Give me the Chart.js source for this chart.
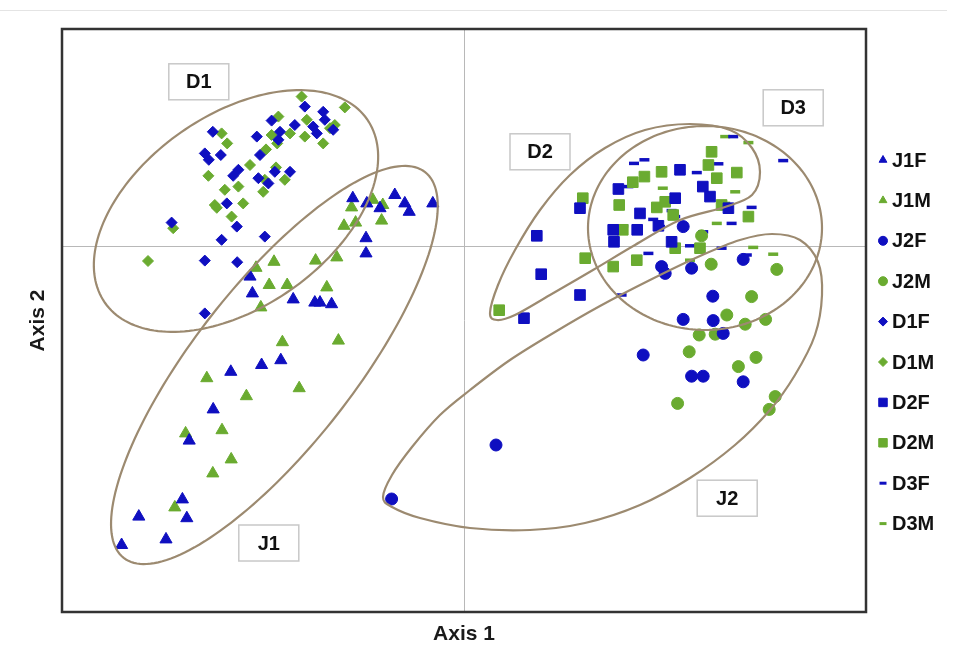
<!DOCTYPE html>
<html>
<head>
<meta charset="utf-8">
<script src="https://cdn.jsdelivr.net/npm/chart.js@4.4.0/dist/chart.umd.min.js"></script>
<style>
  html, body { margin: 0; padding: 0; background: #fff; }
  #wrap { width: 953px; height: 656px; position: relative; }
  #topline { position: absolute; left: 0; top: 10px; width: 947px; height: 0; border-top: 1px solid #e4e4e4; }
</style>
</head>
<body>
<div id="wrap"><div id="topline"></div><canvas id="myChart" width="953" height="656"></canvas></div>
<script>
// scores on the two axes, one list per group
const J1F = [[-27.8,12.2],[-24.3,10.9],[-21.0,9.7],[-17.3,13.0],[-14.8,10.9],[-13.7,8.8],[-7.8,10.9],
  [-24.5,2.2],[-24.5,-1.6],[-53.5,-7.4],[-52.9,-11.6],[-42.7,-13.1],[-37.3,-13.9],[-36.0,-13.9],[-33.1,-14.3],
  [-58.3,-31.2],[-50.6,-29.5],[-45.8,-28.3],[-62.7,-40.6],[-68.7,-48.4],[-70.4,-63.1],[-81.3,-67.4],
  [-69.3,-67.8],[-74.5,-73.1],[-85.6,-74.5]];
const J1M = [[-22.8,11.8],[-20.3,10.5],[-28.1,9.9],[-30.0,5.3],[-27.1,6.1],[-20.6,6.6],[-31.8,-2.6],
  [-37.1,-3.4],[-47.5,-3.7],[-52.0,-5.2],[-48.7,-9.5],[-44.2,-9.5],[-34.3,-10.1],[-50.8,-15.1],[-45.4,-23.8],
  [-31.4,-23.4],[-64.3,-32.8],[-54.4,-37.3],[-41.2,-35.3],[-60.5,-45.8],[-69.6,-46.6],[-58.2,-53.1],
  [-62.8,-56.6],[-72.3,-65.1]];
const J2F = [[54.8,5.1],[49.4,-4.9],[50.3,-6.6],[56.9,-5.3],[69.8,-3.1],[62.2,-12.3],[54.8,-18.1],
  [62.3,-18.4],[64.8,-21.6],[44.8,-27.0],[56.9,-32.3],[59.8,-32.3],[69.8,-33.7],[8.0,-49.5],[-18.1,-63.0]];
const J2M = [[61.8,-4.3],[78.2,-5.6],[71.9,-12.4],[65.7,-17.0],[70.3,-19.3],[75.4,-18.1],[58.8,-22.0],
  [62.8,-21.8],[56.3,-26.2],[73.0,-27.6],[68.6,-29.9],[77.8,-37.4],[76.3,-40.6],[53.4,-39.1],[59.4,2.8]];
const D1F = [[-39.8,35.1],[-35.2,33.8],[-34.8,31.8],[-37.7,30.1],[-36.8,28.4],[-42.3,30.5],[-48.1,31.6],
  [-46.0,28.8],[-46.4,26.8],[-51.8,27.6],[-62.8,28.8],[-64.8,23.4],[-63.8,21.8],[-60.8,23.0],[-51.0,23.0],
  [-56.4,19.3],[-57.7,17.8],[-43.5,18.8],[-51.4,17.2],[-48.9,15.9],[-59.3,10.9],[-32.7,29.3],[-47.3,18.8],
  [-73.1,6.1],[-56.8,5.1],[-60.6,1.8],[-49.8,2.6],[-64.8,-3.4],[-56.7,-3.8],[-64.8,-16.6]];
const D1M = [[-40.6,37.6],[-29.8,34.9],[-46.4,32.6],[-39.3,31.8],[-43.5,28.4],[-39.8,27.6],[-32.3,30.5],
  [-33.5,29.7],[-35.2,25.9],[-48.1,28.0],[-46.7,25.9],[-49.5,24.4],[-60.6,28.4],[-59.2,25.9],[-53.5,20.5],
  [-47.0,19.9],[-49.8,16.8],[-44.8,16.8],[-63.9,17.8],[-56.4,15.1],[-59.8,14.3],[-50.2,13.8],[-55.2,10.9],
  [-62.3,10.5],[-58.1,7.6],[-72.7,4.7],[-79.0,-3.5],[-61.8,9.8]];
const D2F = [[18.2,2.8],[29.0,9.7],[38.6,14.5],[44.0,8.4],[37.3,4.3],[37.5,1.3],[43.3,4.3],[48.6,5.3],
  [52.8,12.2],[54.0,19.3],[51.9,1.3],[59.7,15.1],[61.5,12.6],[66.1,9.7],[19.3,-6.8],[29.0,-12.0],[15.0,-17.8]];
const D2M = [[29.7,12.2],[38.8,10.5],[42.2,16.2],[45.1,17.6],[49.4,18.8],[48.2,9.9],[50.3,11.3],[39.7,4.3],
  [30.3,-2.8],[37.3,-4.9],[43.2,-3.3],[61.9,23.8],[61.1,20.5],[68.2,18.6],[63.2,17.2],[52.3,8.0],
  [64.4,10.5],[71.1,7.6],[59.0,-0.3],[52.8,-0.3],[8.8,-15.8]];
const D3F = [[42.5,20.9],[45.1,21.8],[41.1,15.1],[47.3,6.9],[49.0,5.1],[46.1,-1.6],[51.9,9.1],[39.8,5.3],
  [67.3,27.6],[58.2,18.6],[63.6,20.8],[79.8,21.6],[71.9,9.9],[66.9,5.9],[56.5,0.3],[64.4,-0.3],[59.8,3.8],
  [70.7,-2.0],[39.4,-12.0],[52.8,7.6]];
const D3M = [[49.7,14.7],[65.3,27.6],[71.1,26.1],[67.8,13.8],[63.2,5.9],[72.3,-0.1],[77.3,-1.8],
  [65.3,10.9],[56.5,-3.3]];

const seriesNames = ['J1F','J1M','J2F','J2M','D1F','D1M','D2F','D2M','D3F','D3M'];
const seriesData = [J1F, J1M, J2F, J2M, D1F, D1M, D2F, D2M, D3F, D3M];

// group envelopes: ellipses (centre, half axes, tilt in degrees) ...
const groupEllipses = [
  {cx: -57, cy: 9, a: 40, b: 24, angle: 35},      // D1
  {cx: -47.4, cy: -29.5, a: 61.2, b: 20, angle: 52}, // J1
  {cx: 60.25, cy: 4.75, a: 29.25, b: 25.5, angle: 0} // D3
];
// ... and egg shaped ones traced as outlines
const outlineD2 = [[6.5,-16.5],[8.5,-9.5],[12.75,-0.75],[19,9.25],[26.5,18],[35.25,24.75],[45.25,29.25],
  [56.5,30.75],[66.5,29.25],[72,24.75],[74,18.75],[72,13],[65.25,10],[54,6.75],[42.75,0.5],[32.25,-5.75],
  [21.5,-12],[12.75,-17],[8.25,-18.25]];
const outlineJ2 = [[-20.25,-62.5],[-18,-57],[-13,-50],[-6,-42],[1.5,-35.75],[11.5,-28.25],[22.75,-21.25],
  [34,-14.75],[46.5,-8.25],[59,-2.25],[69,1.75],[77,3.25],[84,1.75],[88.5,-3.75],[89.5,-12],[87.75,-22],
  [82.75,-32],[76.5,-40.75],[67.75,-49.5],[56.5,-57.75],[44,-64.5],[30.25,-69],[16.5,-70.75],[1.5,-70.25],
  [-11,-67.75],[-18,-65]];
const groupOutlines = [outlineD2, outlineJ2];

const groupTags = [
  {text: 'D1', x: -66.3, y: 41.3},
  {text: 'D2', x: 19, y: 23.8},
  {text: 'D3', x: 82.3, y: 34.8},
  {text: 'J1', x: -48.8, y: -74},
  {text: 'J2', x: 65.8, y: -62.8}
];

const BLUE = '#0f0fc0';
const GREEN = '#6aab30';

const styles = {
  J1F: {shape: 'triangle', color: BLUE, r: 7},
  J1M: {shape: 'triangle', color: GREEN, r: 7},
  J2F: {shape: 'circle', color: BLUE, r: 6},
  J2M: {shape: 'circle', color: GREEN, r: 6},
  D1F: {shape: 'rectRot', color: BLUE, r: 5.5},
  D1M: {shape: 'rectRot', color: GREEN, r: 5.5},
  D2F: {shape: 'rect', color: BLUE, r: 7.5},
  D2M: {shape: 'rect', color: GREEN, r: 7.5},
  D3F: {shape: 'line', color: BLUE, r: 5},
  D3M: {shape: 'line', color: GREEN, r: 5}
};

const datasets = seriesNames.map((name, i) => {
  const s = styles[name];
  return {
    label: name,
    data: seriesData[i].map(p => ({x: p[0], y: p[1]})),
    pointStyle: s.shape,
    pointRadius: s.r,
    pointBackgroundColor: s.color,
    pointBorderColor: s.color,
    pointBorderWidth: s.shape === 'line' ? 3.5 : 1,
    showLine: false
  };
});

function smoothClosed(ctx, pts) {
  const n = pts.length;
  ctx.beginPath();
  ctx.moveTo(pts[0][0], pts[0][1]);
  for (let i = 0; i < n; i++) {
    const p0 = pts[(i - 1 + n) % n], p1 = pts[i], p2 = pts[(i + 1) % n], p3 = pts[(i + 2) % n];
    ctx.bezierCurveTo(
      p1[0] + (p2[0] - p0[0]) / 6, p1[1] + (p2[1] - p0[1]) / 6,
      p2[0] - (p3[0] - p1[0]) / 6, p2[1] - (p3[1] - p1[1]) / 6,
      p2[0], p2[1]);
  }
  ctx.closePath();
  ctx.stroke();
}

const ellipsePlugin = {
  id: 'groups',
  afterDatasetsDraw(chart) {
    const ctx = chart.ctx;
    const xs = chart.scales.x, ys = chart.scales.y;
    ctx.save();
    ctx.strokeStyle = '#9c8a70';
    ctx.lineWidth = 2.2;
    groupEllipses.forEach(e => {
      const th = e.angle * Math.PI / 180;
      ctx.beginPath();
      for (let i = 0; i <= 180; i++) {
        const t = i / 180 * Math.PI * 2;
        const dx = e.a * Math.cos(t) * Math.cos(th) - e.b * Math.sin(t) * Math.sin(th);
        const dy = e.a * Math.cos(t) * Math.sin(th) + e.b * Math.sin(t) * Math.cos(th);
        const px = xs.getPixelForValue(e.cx + dx);
        const py = ys.getPixelForValue(e.cy + dy);
        if (i === 0) ctx.moveTo(px, py); else ctx.lineTo(px, py);
      }
      ctx.closePath();
      ctx.stroke();
    });
    groupOutlines.forEach(o => {
      smoothClosed(ctx, o.map(p => [xs.getPixelForValue(p[0]), ys.getPixelForValue(p[1])]));
    });

    // tags
    ctx.font = 'bold 20px Arial, "Liberation Sans", sans-serif';
    ctx.textAlign = 'center';
    ctx.textBaseline = 'middle';
    groupTags.forEach(t => {
      const px = xs.getPixelForValue(t.x), py = ys.getPixelForValue(t.y);
      ctx.fillStyle = '#fff';
      ctx.fillRect(px - 30, py - 18, 60, 36);
      ctx.strokeStyle = '#c8c8c8';
      ctx.lineWidth = 1.5;
      ctx.strokeRect(px - 30, py - 18, 60, 36);
      ctx.fillStyle = '#111';
      ctx.fillText(t.text, px, py + 1);
    });

    // plot frame
    const a = chart.chartArea;
    ctx.strokeStyle = '#333';
    ctx.lineWidth = 2.5;
    ctx.strokeRect(a.left, a.top, a.right - a.left, a.bottom - a.top);
    ctx.restore();
  }
};

const legendPlugin = {
  id: 'sideLegend',
  afterDraw(chart) {
    const ctx = chart.ctx;
    const x0 = chart.chartArea.right + 17;
    const y0 = 160, step = 40.4;
    ctx.save();
    ctx.font = 'bold 20px Arial, "Liberation Sans", sans-serif';
    ctx.textAlign = 'left';
    ctx.textBaseline = 'middle';
    chart.data.datasets.forEach((ds, i) => {
      const y = y0 + i * step;
      const line = ds.pointStyle === 'line';
      ctx.fillStyle = ds.pointBackgroundColor;
      ctx.strokeStyle = ds.pointBorderColor;
      ctx.lineWidth = line ? 3 : 1;
      Chart.helpers.drawPoint(ctx, {
        pointStyle: ds.pointStyle,
        radius: line ? 3.5 : (ds.pointStyle === 'rect' ? 6 : 4.5),
        rotation: 0,
        borderWidth: line ? 3 : 1
      }, x0, y);
      ctx.fillStyle = '#111';
      ctx.fillText(ds.label, x0 + 9, y + 1);
    });
    ctx.restore();
  }
};

const zeroOnly = axis => { axis.ticks = [{value: 0}]; };
const crossColor = c => (c.tick && c.tick.value === 0) ? '#b8b8b8' : 'rgba(0,0,0,0)';

new Chart(document.getElementById('myChart'), {
  type: 'scatter',
  data: {datasets: datasets},
  options: {
    responsive: false,
    animation: false,
    devicePixelRatio: 1,
    layout: {padding: {top: 29, left: 10, right: 87, bottom: 0}},
    plugins: {
      legend: {display: false},
      tooltip: {enabled: false}
    },
    scales: {
      x: {
        min: -100.5, max: 100.5,
        afterBuildTicks: zeroOnly,
        ticks: {display: false},
        border: {display: false},
        grid: {drawTicks: false, color: crossColor, lineWidth: 1},
        title: {display: true, text: 'Axis 1', color: '#1a1a1a',
          font: {family: 'Arial, "Liberation Sans", sans-serif', size: 21, weight: 'bold'},
          padding: {top: 9.4, bottom: 9.4}}
      },
      y: {
        min: -91.25, max: 54.5,
        afterBuildTicks: zeroOnly,
        ticks: {display: false},
        border: {display: false},
        grid: {drawTicks: false, color: crossColor, lineWidth: 1},
        title: {display: true, text: 'Axis 2', color: '#1a1a1a',
          font: {family: 'Arial, "Liberation Sans", sans-serif', size: 21, weight: 'bold'},
          padding: {top: 15.4, bottom: 11.4}}
      }
    }
  },
  plugins: [ellipsePlugin, legendPlugin]
});
</script>
</body>
</html>
